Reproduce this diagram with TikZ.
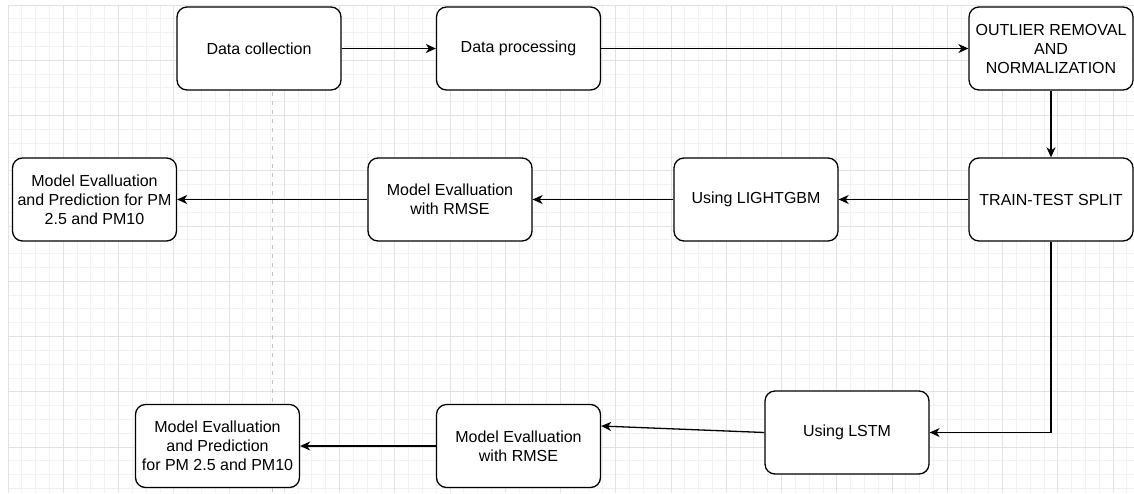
\documentclass[tikz,border=0pt]{standalone}
\usepackage{fontspec}
\setmainfont{Liberation Sans}
\usetikzlibrary{arrows.meta,calc}
\definecolor{minorgrid}{HTML}{F1F1F1}
\definecolor{majorgrid}{HTML}{E2E2E2}
\definecolor{guide}{HTML}{C4C4C4}
\begin{document}
\begin{tikzpicture}[x=1pt,y=-1pt,
  box/.style={draw=black,line width=1.3pt,rounded corners=10pt,fill=white,
    minimum width=164pt,minimum height=83pt,inner sep=1pt,align=center,
    font=\fontsize{16}{19}\selectfont},
  flow/.style={draw=black,line width=1.3pt,-{Stealth[length=10pt,width=9pt,inset=3pt]}},
  mgrid/.style={draw=minorgrid,line width=0.8pt},
  Mgrid/.style={draw=majorgrid,line width=0.9pt}]
\useasboundingbox[fill=white] (0,0) rectangle (1134,493);
% grid
\foreach \i in {0,...,81}{
  \pgfmathsetmacro{\gx}{8+13.8125*\i}
  \draw[mgrid] (\gx,5) -- (\gx,493);
}
\foreach \j in {0,...,35}{
  \pgfmathsetmacro{\gy}{5+13.8125*\j}
  \draw[mgrid] (8,\gy) -- (1134,\gy);
}
\foreach \i in {0,...,20}{
  \pgfmathsetmacro{\gx}{8+55.25*\i}
  \draw[Mgrid] (\gx,5) -- (\gx,493);
}
\foreach \j in {0,...,8}{
  \pgfmathsetmacro{\gy}{5+55.25*\j}
  \draw[Mgrid] (8,\gy) -- (1134,\gy);
}
% dashed guide
\draw[guide,line width=1pt,dash pattern=on 4pt off 5pt] (272,92) -- (272,493);
% nodes
\node[box] (dc) at (259,48.5) {Data collection};
\node[box] (dp) at (518.5,48.5) {Data processing};
\node[box] (out) at (1051,48.5) {OUTLIER REMOVAL\\AND\\NORMALIZATION};
\node[box] (tts) at (1051,199.5) {TRAIN-TEST SPLIT};
\node[box] (lgb) at (756,199.5) {Using LIGHTGBM};
\node[box] (me1) at (450,199.5) {Model Evalluation\\with RMSE};
\node[box] (mp1) at (94.5,199.5) {Model Evalluation\\and Prediction for PM\\2.5 and PM10};
\node[box] (lstm) at (847,432.5) {Using LSTM};
\node[box] (me2) at (518.5,446) {Model Evalluation\\with RMSE};
\node[box] (mp2) at (217.5,446) {Model Evalluation\\and Prediction\\for PM 2.5 and PM10};
% connectors
\draw[flow] (dc) -- (dp);
\draw[flow] (dp) -- (out);
\draw[flow] (out) -- (tts);
\draw[flow] (tts) -- (lgb);
\draw[flow] (lgb) -- (me1);
\draw[flow] (me1) -- (mp1);
\draw[flow] (tts.south) |- (lstm.east);
\draw[flow] (lstm.west) -- ($(me2.east)+(0,-20)$);
\draw[flow] (me2) -- (mp2);
\end{tikzpicture}
\end{document}
